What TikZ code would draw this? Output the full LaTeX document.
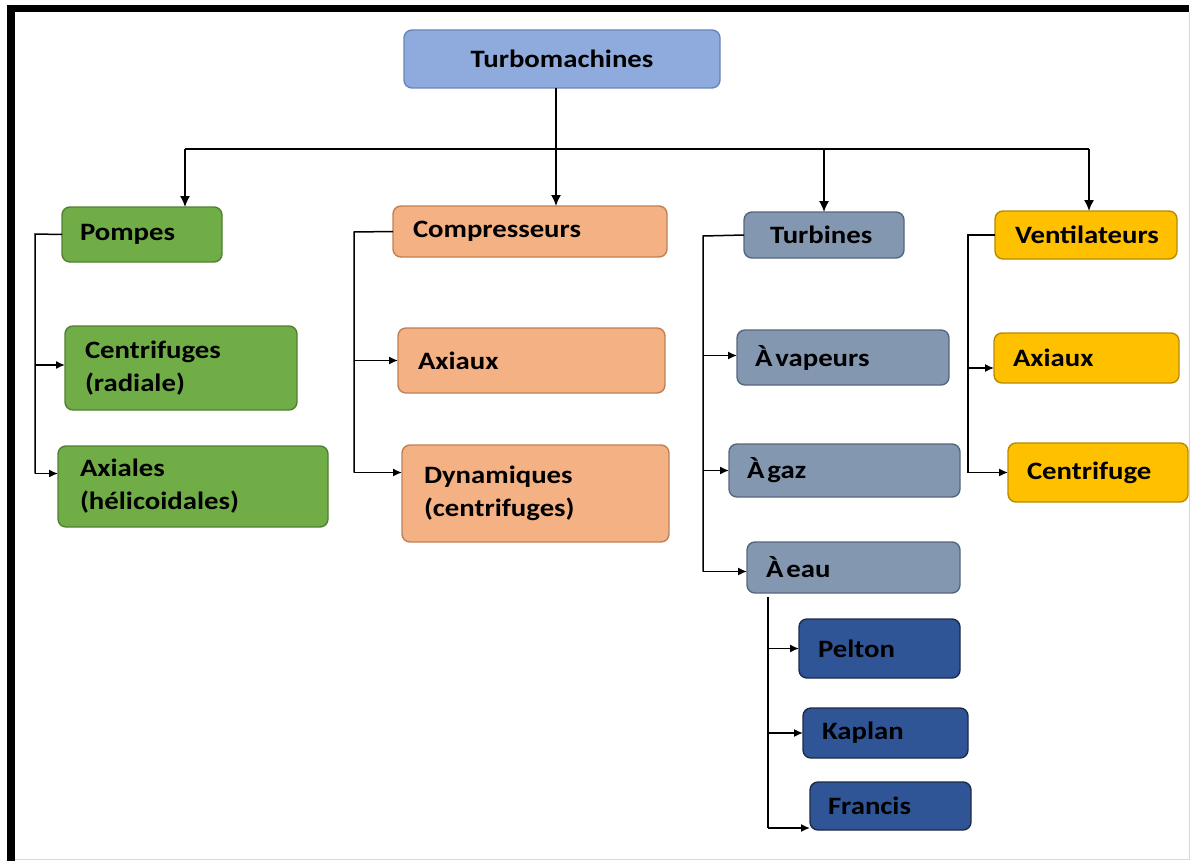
\documentclass[tikz,border=0pt]{standalone}
\usepackage{fontspec}
\setmainfont{Carlito}[FakeStretch=1.15]
\usetikzlibrary{arrows.meta}

\definecolor{topfill}{HTML}{8FAADC}
\definecolor{topline}{HTML}{6A86B8}
\definecolor{grnfill}{HTML}{70AD47}
\definecolor{grnline}{HTML}{507F33}
\definecolor{orgfill}{HTML}{F4B183}
\definecolor{orgline}{HTML}{C08055}
\definecolor{slafill}{HTML}{8497B0}
\definecolor{slaline}{HTML}{56667E}
\definecolor{navfill}{HTML}{2F5597}
\definecolor{navline}{HTML}{1C2A48}
\definecolor{golfill}{HTML}{FFC000}
\definecolor{golline}{HTML}{B88A00}

\tikzset{
  box/.style={rounded corners=8pt, line width=1.4pt, anchor=north west,
    outer sep=0pt, inner ysep=0pt, align=left, text=black,
    font=\fontsize{25}{33}\selectfont\bfseries},
  pump/.style={box, fill=grnfill, draw=grnline},
  comp/.style={box, fill=orgfill, draw=orgline},
  turb/.style={box, fill=slafill, draw=slaline},
  hydro/.style={box, fill=navfill, draw=navline},
  vent/.style={box, fill=golfill, draw=golline},
  link/.style={line width=1.5pt, black},
  arrow/.style={link, -{Latex[length=9pt,width=8pt]}},
  droparrow/.style={link, -{Latex[length=11pt,width=10pt]}}
}

\begin{document}
\begin{tikzpicture}[x=1pt, y=-1pt]
\useasboundingbox (0,0) rectangle (1190,861);

% page frame
\fill[black] (7,5) rectangle (1189,12);
\fill[black] (7,5) rectangle (15,861);
\draw[black!15, line width=1pt] (15,859) -- (1189,859) -- (1189,12);

% root
\node[box, fill=topfill, draw=topline, align=center, text width=316pt,
      inner xsep=0pt, minimum height=58pt] (root) at (404,30) {Turbomachines};

% first level
\node[pump, text width=124pt, inner xsep=18pt, minimum height=55pt] (pompes) at (62,207) {Pompes};
\node[comp, text width=234pt, inner xsep=20pt, minimum height=51pt] (compr) at (393,206) {Compresseurs};
\node[turb, text width=108pt, inner xsep=26pt, minimum height=46pt] (turbines) at (744,212) {Turbines};
\node[vent, text width=142pt, inner xsep=20pt, minimum height=48pt] (ventil) at (995,211) {Ventilateurs};

% pumps
\node[pump, text width=192pt, inner xsep=20pt, minimum height=84pt] (pcentr) at (65,326) {Centrifuges\\(radiale)};
\node[pump, text width=226pt, inner xsep=22pt, minimum height=81pt] (paxial) at (58,446) {Axiales\\(hélicoidales)};

% compressors
\node[comp, text width=227pt, inner xsep=20pt, minimum height=65pt] (caxial) at (398,328) {Axiaux};
\node[comp, text width=223pt, inner xsep=22pt, minimum height=97pt] (cdyn) at (402,445) {Dynamiques\\(centrifuges)};

% turbines
\node[turb, text width=176pt, inner xsep=18pt, minimum height=55pt] (tvap) at (737,330) {À\hspace{3pt}vapeurs};
\node[turb, text width=195pt, inner xsep=18pt, minimum height=53pt] (tgaz) at (729,444) {À\hspace{3pt}gaz};
\node[turb, text width=175pt, inner xsep=19pt, minimum height=51pt] (teau) at (747,542) {À\hspace{3pt}eau};

% hydraulic turbines
\node[hydro, text width=123pt, inner xsep=19pt, minimum height=59pt] (pelton) at (799,619) {Pelton};
\node[hydro, text width=127pt, inner xsep=19pt, minimum height=50pt] (kaplan) at (803,708) {Kaplan};
\node[hydro, text width=125pt, inner xsep=18pt, minimum height=48pt] (francis) at (810,782) {Francis};

% fans
\node[vent, text width=147pt, inner xsep=19pt, minimum height=50pt] (vaxial) at (994,333) {Axiaux};
\node[vent, text width=142pt, inner xsep=19pt, minimum height=59pt] (vcentr) at (1008,443) {Centrifuge};

% entry points of the side arrows on the boxes
\coordinate (pcentrIn) at ([yshift=3pt]pcentr.west);
\coordinate (paxialIn) at ([yshift=13pt]paxial.west);
\coordinate (cdynIn) at ([yshift=21pt]cdyn.west);
\coordinate (tvapIn) at ([yshift=2pt]tvap.west);
\coordinate (teauIn) at ([yshift=-4pt]teau.west);
\coordinate (francisIn) at ([yshift=-22pt]francis.west);
\coordinate (vaxialIn) at ([yshift=-10pt]vaxial.west);

% root to the four families
\coordinate (busL) at (185,149);
\coordinate (busT) at (824,149);
\coordinate (busR) at (1089,149);
\coordinate (rootOut) at ([xshift=-6pt]root.south);
\draw[link] (busL) -- (busR);
\draw[droparrow] (rootOut) -- (rootOut |- compr.north);
\draw[droparrow] (busL) -- (busL |- pompes.north);
\draw[droparrow] (busT) -- (busT |- turbines.north);
\draw[droparrow] (busR) -- (busR |- ventil.north);

% pumps branch
\coordinate (pb) at (35,234);
\draw[link] (pompes.west) -- (pb) -- (pb |- paxialIn);
\draw[arrow] (pb |- pcentrIn) -- (pcentrIn);
\draw[arrow] (pb |- paxialIn) -- (paxialIn);

% compressors branch
\coordinate (cb) at (354,232);
\draw[link] (compr.west) -- (cb) -- (cb |- cdynIn);
\draw[arrow] (cb |- caxial.west) -- (caxial.west);
\draw[arrow] (cb |- cdynIn) -- (cdynIn);

% turbines branch
\coordinate (tb) at (703,236);
\draw[link] (turbines.west) -- (tb) -- (tb |- teauIn);
\draw[arrow] (tb |- tvapIn) -- (tvapIn);
\draw[arrow] (tb |- tgaz.west) -- (tgaz.west);
\draw[arrow] (tb |- teauIn) -- (teauIn);

% water turbines branch
\coordinate (hb) at ([xshift=21pt,yshift=-4pt]teau.south west);
\draw[link] (hb) -- (hb |- francisIn);
\draw[arrow] (hb |- pelton.west) -- (pelton.west);
\draw[arrow] (hb |- kaplan.west) -- (kaplan.west);
\draw[arrow] (hb |- francisIn) -- (francisIn);

% fans branch
\coordinate (vb) at (968,235);
\draw[link] (ventil.west) -- (vb) -- (vb |- vcentr.west);
\draw[arrow] (vb |- vaxialIn) -- (vaxialIn);
\draw[arrow] (vb |- vcentr.west) -- (vcentr.west);

\end{tikzpicture}
\end{document}
